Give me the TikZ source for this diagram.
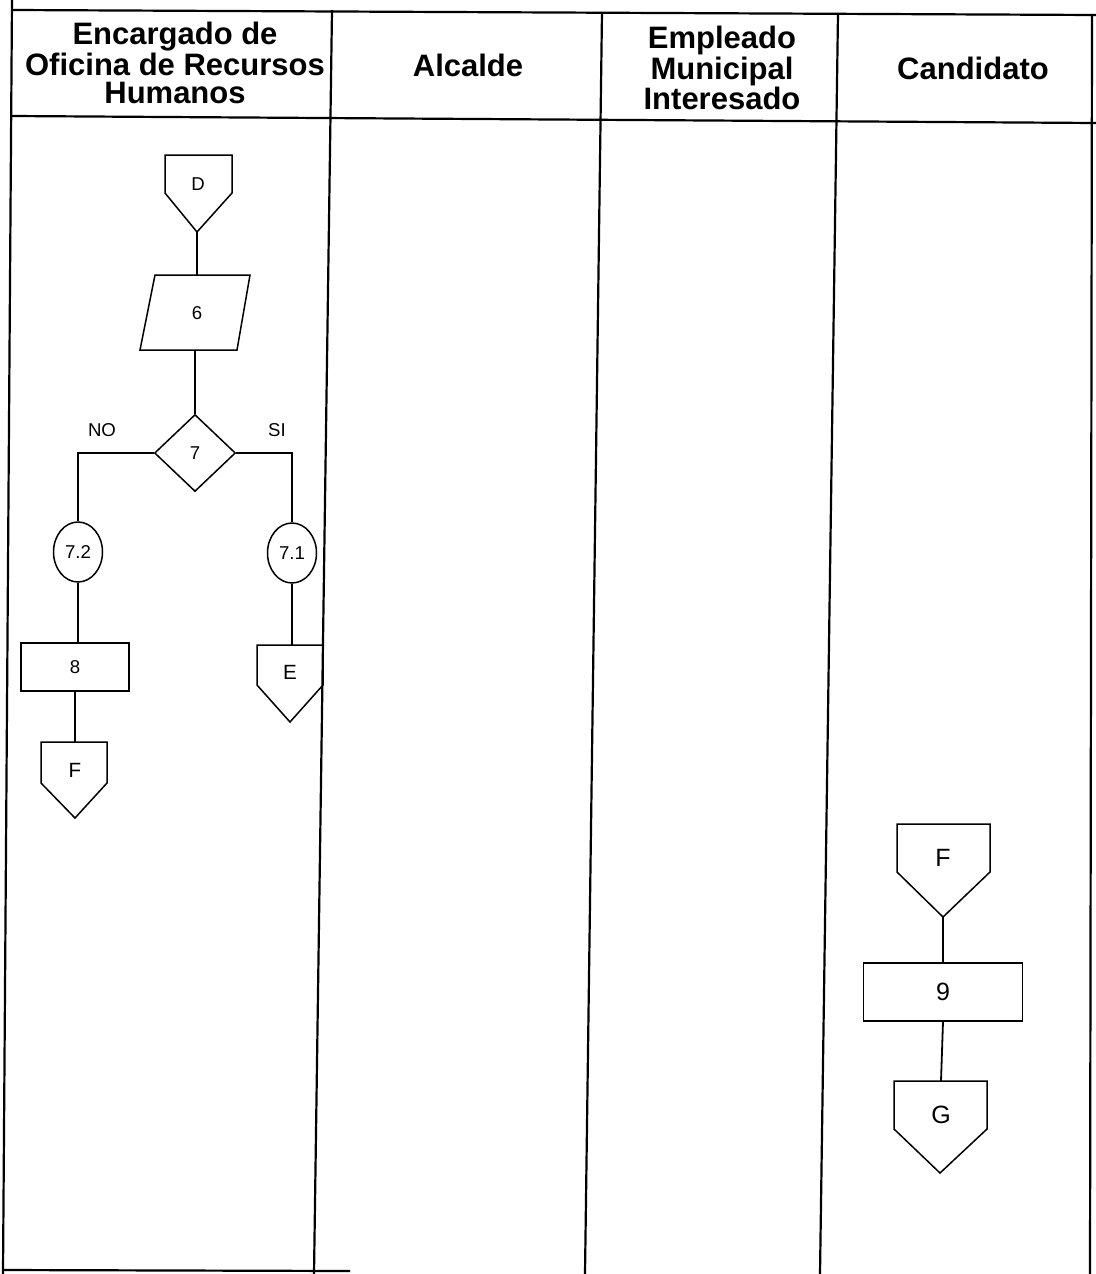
\documentclass[tikz,border=0pt]{standalone}
\usepackage{fontspec}
\setmainfont{Liberation Sans}
\usetikzlibrary{shapes.geometric,calc}
\begin{document}
\begin{tikzpicture}[x=0.5pt,y=-0.5pt,
  lane/.style={line width=1.1pt, black},
  shp/.style={draw, line width=0.75pt, line join=miter},
  conn/.style={line width=0.9pt},
  hdr/.style={align=center, font=\bfseries\fontsize{15.5}{14}\selectfont, inner sep=0},
  sm/.style={font=\fontsize{9.3}{11}\selectfont, inner sep=0},
  mid/.style={font=\fontsize{10.3}{12}\selectfont, inner sep=0},
  big/.style={font=\fontsize{12.5}{14}\selectfont, inner sep=0},
  box/.style={shp, rectangle, inner sep=0},
  conncircle/.style={shp, ellipse, inner sep=0, minimum width=24.5pt, minimum height=30pt},
]
\useasboundingbox (0,0) rectangle (1096,1274);
\fill[white] (0,0) rectangle (1096,1274);

% swimlane frame
\draw[lane] (12,0) -- (3,1274);
\draw[lane] (12,10) -- (1096,15);
\draw[lane] (12,116) -- (1096,123);
\draw[lane] (332,10) -- (314,1274);
\draw[lane] (602,12) -- (585,1274);
\draw[lane] (838,13) -- (820,1274);
\draw[lane] (1092,14) -- (1090,1274);
\draw[lane] (3,1270) -- (350,1271);

% headers
\node[hdr] (h1) at (175,63) {Encargado de\\Oficina de Recursos\\Humanos};
\node[hdr] (h2) at (468,65) {Alcalde};
\node[hdr] (h3) at (722,68) {Empleado\\Municipal\\Interesado};
\node[hdr] (h4) at (973,68) {Candidato};

% ---- lane 1 ----
% off-page connector D
\draw[shp] (165,155) -- (232,155) -- (232,193) -- (197,232) coordinate (Dtip) -- (165,193) -- cycle;
\node[sm] (D) at (198,184) {D};

% input/output 6
\draw[shp] (155,275) -- (250,275) -- (237,350) -- (140,350) -- cycle;
\coordinate (P6n) at (197,275);
\coordinate (P6s) at (195,350);
\node[sm] (P6) at (197,313) {6};
\draw[conn] (Dtip) -- (P6n);

% decision 7
\node[shp, diamond, minimum width=40.5pt, minimum height=38.5pt, inner sep=0, sm] (d7) at (195,453) {7};
\draw[conn] (P6s) -- (d7.north);
\node[sm] (no) at (102,430) {NO};
\node[sm] (si) at (277,430) {SI};

% connectors 7.2 and 7.1
\node[conncircle, sm] (c72) at (78,552) {7.2};
\node[conncircle, sm] (c71) at (292,553) {7.1};
\draw[conn] (d7.west) -| (c72.north);
\draw[conn] (d7.east) -| (c71.north);

% process 8
\node[box, minimum width=54pt, minimum height=24pt, sm] (r8) at (75,667) {8};
\draw[conn] (c72.south) -- (c72.south |- r8.north);

% off-page F (lane 1)
\draw[shp] (41,742) coordinate (F1nw) -- (107,742) -- (107,783) -- (75,818) -- (41,783) -- cycle;
\coordinate (F1top) at (75,742);
\node[mid] (F1) at (75,770) {F};
\draw[conn] (r8.south) -- (F1top);

% off-page E
\draw[shp] (257,645) -- (323,645) -- (323,685) -- (290,722) -- (257,685) -- cycle;
\coordinate (Etop) at (290,645);
\node[mid] (E) at (290,672) {E};
\draw[conn] (c71.south) -- (c71.south |- Etop);

% ---- lane 4 ----
\draw[shp] (897,824) -- (990,824) -- (990,872) -- (943,917) coordinate (F2tip) -- (897,872) -- cycle;
\node[big] (F2) at (943,858) {F};

\node[box, minimum width=79.5pt, minimum height=29pt, big] (r9) at (943,992) {9};
\draw[conn] (F2tip) -- (r9.north);

\draw[shp] (894,1081) -- (987,1081) -- (987,1129) -- (940,1173) -- (894,1129) -- cycle;
\coordinate (Gtop) at (941,1081);
\node[big] (G) at (941,1115) {G};
\draw[conn] (r9.south) -- (Gtop);
\end{tikzpicture}
\end{document}
